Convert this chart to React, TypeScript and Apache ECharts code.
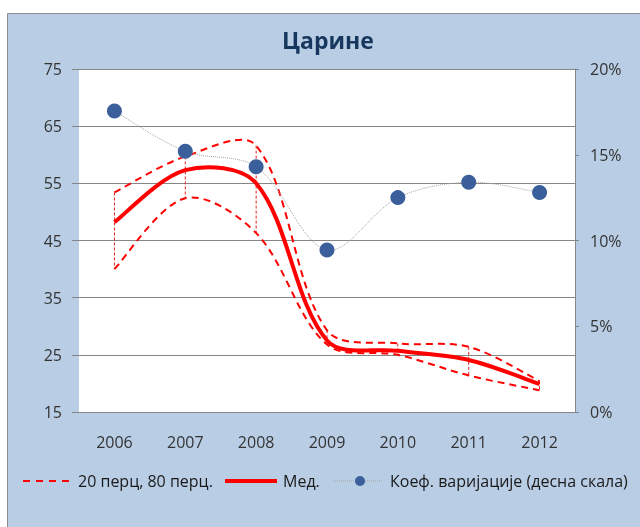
import React, { useEffect, useRef } from "react";
import * as echarts from "echarts";

const years = ["2006", "2007", "2008", "2009", "2010", "2011", "2012"];
const median = [48.2, 57.3, 55.0, 27.5, 25.7, 24.1, 19.9];
const p80 = [53.4, 59.7, 61.6, 29.3, 27.0, 26.4, 20.4];
const p20 = [40.0, 52.4, 46.3, 26.8, 25.0, 21.4, 18.8];
const cv = [0.1755, 0.152, 0.143, 0.0945, 0.125, 0.134, 0.128];
const leftTicks = { min: 15, max: 75, interval: 10 };
const rightTicks = { min: 0, max: 0.2, interval: 0.05 };

const FONT = "'Liberation Sans Narrow', 'Open Sans', sans-serif";
const RED = "#FF0000";
const GRAY = "#868686";

// Excel-like smoothed path through pixel points
function smoothPath(pts: number[][]): string {
  const n = pts.length;
  if (n < 2) return "";
  const dist = (a: number[], b: number[]) => Math.hypot(b[0] - a[0], b[1] - a[1]);
  const ctrl = (i: number) => {
    const p = pts[i];
    if (i === 0) {
      const q = pts[1];
      return { out: [p[0] + (q[0] - p[0]) / 6, p[1] + (q[1] - p[1]) / 6], inn: p };
    }
    if (i === n - 1) {
      const q = pts[n - 2];
      return { out: p, inn: [p[0] + (q[0] - p[0]) / 6, p[1] + (q[1] - p[1]) / 6] };
    }
    const a = pts[i - 1];
    const b = pts[i + 1];
    const d0 = dist(a, p);
    const d1 = dist(p, b);
    const s = d0 + d1 || 1;
    const tx = (b[0] - a[0]) / 3;
    const ty = (b[1] - a[1]) / 3;
    return {
      out: [p[0] + (tx * d1) / s, p[1] + (ty * d1) / s],
      inn: [p[0] - (tx * d0) / s, p[1] - (ty * d0) / s],
    };
  };
  let d = `M${pts[0][0]},${pts[0][1]}`;
  for (let i = 0; i < n - 1; i++) {
    const c1 = ctrl(i).out;
    const c2 = ctrl(i + 1).inn;
    const p = pts[i + 1];
    d += ` C${c1[0]},${c1[1]} ${c2[0]},${c2[1]} ${p[0]},${p[1]}`;
  }
  return d;
}

function curveSeries(
  name: string,
  values: number[],
  style: any,
  yAxisIndex = 0,
  z = 2
) {
  return {
    type: "custom",
    name,
    yAxisIndex,
    z,
    silent: true,
    data: values.map((v, i) => [i, v]),
    renderItem: (params: any, api: any) => {
      if (params.dataIndexInside !== 0) return null;
      const pts: number[][] = [];
      for (let j = 0; j < values.length; j++) {
        pts.push(api.coord([api.value(0, j), api.value(1, j)]));
      }
      return {
        type: "path",
        shape: { pathData: smoothPath(pts) },
        style: { fill: "none", ...style },
      };
    },
  };
}

export default function App() {
  const ref = useRef<HTMLDivElement>(null);
  useEffect(() => {
    const chart = echarts.init(ref.current!, null, { renderer: "svg" });
    const rangeData = years.map((_, i) => [i, p80[i], p20[i]]);
    const legendY = 481;
    const txt = (x: number, text: string) => ({
      type: "text",
      x,
      y: legendY,
      style: {
        text,
        fill: "#1A1A1A",
        font: "16px " + FONT,
        textVerticalAlign: "middle",
      },
    });
    chart.setOption({
      animation: false,
      textStyle: { fontFamily: FONT },
      graphic: [
        {
          type: "rect",
          z: -10,
          silent: true,
          shape: { x: 7.5, y: 13.5, width: 700, height: 600 },
          style: { fill: "#B9CDE5", stroke: "#8C8C8C", lineWidth: 1 },
        },
        {
          type: "text",
          x: 328,
          y: 40,
          style: {
            text: "Царине",
            fill: "#17375E",
            font: "bold 23px " + FONT,
            textAlign: "center",
            textVerticalAlign: "middle",
          },
        },
        {
          type: "line",
          shape: { x1: 23, y1: legendY, x2: 70, y2: legendY },
          style: { stroke: RED, lineWidth: 2, lineDash: [7, 6] },
        },
        txt(78, "20 перц, 80 перц."),
        {
          type: "line",
          shape: { x1: 225, y1: legendY, x2: 277, y2: legendY },
          style: { stroke: RED, lineWidth: 4 },
        },
        txt(283, "Мед."),
        {
          type: "line",
          shape: { x1: 333, y1: legendY, x2: 383, y2: legendY },
          style: { stroke: "#A6A6A6", lineWidth: 1, lineDash: [1, 1] },
        },
        {
          type: "circle",
          shape: { cx: 360, cy: legendY, r: 5 },
          style: { fill: "#3A5F9A" },
        },
        txt(390, "Коеф. варијације (десна скала)"),
      ],
      grid: {
        left: 79,
        right: 65,
        top: 69,
        bottom: 115,
        show: true,
        backgroundColor: "#FFFFFF",
        borderWidth: 0,
      },
      xAxis: {
        type: "category",
        data: years,
        boundaryGap: true,
        axisLine: { show: true, lineStyle: { color: GRAY } },
        axisTick: { show: false },
        axisLabel: { color: "#333333", fontSize: 16, margin: 22, fontFamily: FONT },
      },
      yAxis: [
        {
          type: "value",
          ...leftTicks,
          axisLine: { show: false },
          axisTick: { show: true, length: 7, lineStyle: { color: GRAY } },
          splitLine: { show: true, lineStyle: { color: GRAY, width: 1 } },
          axisLabel: { color: "#333333", fontSize: 16, margin: 17, fontFamily: FONT },
        },
        {
          type: "value",
          ...rightTicks,
          position: "right",
          axisLine: { show: true, lineStyle: { color: GRAY } },
          axisTick: { show: true, length: 4, lineStyle: { color: GRAY } },
          splitLine: { show: false },
          axisLabel: {
            color: "#333333",
            fontSize: 16,
            margin: 15,
            fontFamily: FONT,
            formatter: (v: number) => Math.round(v * 100) + "%",
          },
        },
      ],
      series: [
        {
          type: "custom",
          name: "range",
          data: rangeData,
          z: 1,
          silent: true,
          renderItem: (params: any, api: any) => {
            const a = api.coord([api.value(0), api.value(1)]);
            const b = api.coord([api.value(0), api.value(2)]);
            return {
              type: "line",
              shape: { x1: a[0], y1: a[1], x2: b[0], y2: b[1] },
              style: { stroke: "#E02020", lineWidth: 1, lineDash: [3, 2] },
            };
          },
        },
        curveSeries("80 перц.", p80, { stroke: RED, lineWidth: 2, lineDash: [7, 5] }),
        curveSeries("20 перц.", p20, { stroke: RED, lineWidth: 2, lineDash: [7, 5] }),
        curveSeries("Мед.", median, { stroke: RED, lineWidth: 4 }, 0, 3),
        curveSeries(
          "Коеф. варијације",
          cv,
          { stroke: "#A6A6A6", lineWidth: 1, lineDash: [1, 1] },
          1,
          4
        ),
        {
          type: "scatter",
          name: "Коеф. варијације (десна скала)",
          yAxisIndex: 1,
          data: cv.map((v, i) => [i, v]),
          symbol: "circle",
          symbolSize: 15,
          z: 5,
          itemStyle: { color: "#3A5F9A", opacity: 1 },
        },
      ],
    });
    return () => chart.dispose();
  }, []);
  return (
    <div
      ref={ref}
      style={{ position: "fixed", left: 0, top: 0, width: 640, height: 527 }}
    />
  );
}
